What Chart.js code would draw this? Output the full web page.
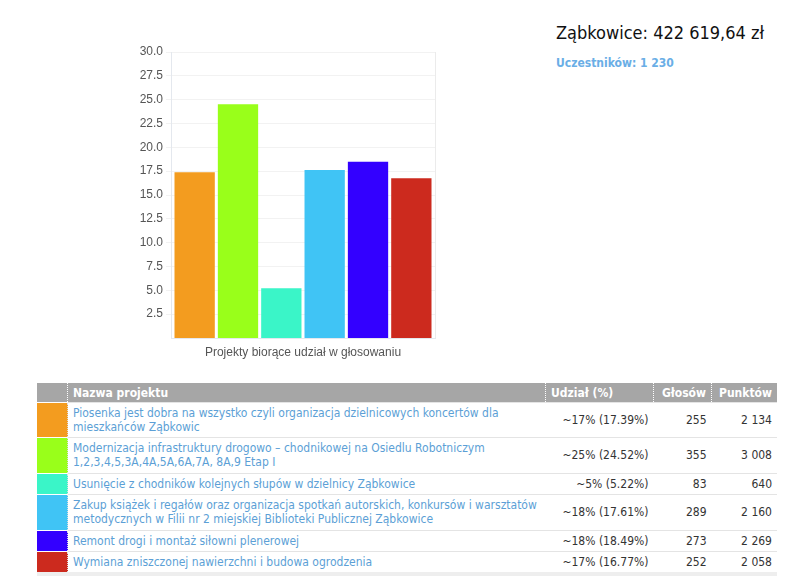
<!DOCTYPE html>
<html lang="pl">
<head>
<meta charset="UTF-8">
<title>Ząbkowice</title>
<script src="https://cdn.jsdelivr.net/npm/chart.js@4"></script>
<style>
  body { margin: 0; background: #fff; font-family: "DejaVu Sans Condensed", "DejaVu Sans", sans-serif; }
  #chartBox { position: absolute; left: 130px; top: 35px; width: 320px; height: 330px; }
  #title { position: absolute; left: 556px; top: 22px; font-size: 18px; color: #111; white-space: nowrap; }
  #people { position: absolute; left: 556px; top: 56px; font-size: 12px; font-weight: bold; color: #6aaee6; }
  #tbl { position: absolute; left: 37px; top: 383px; width: 740px; border-collapse: collapse; font-size: 12px; border-bottom: 4px solid #eeeeee; }
  #tbl th { background: #a6a6a6; color: #fff; font-weight: bold; text-align: left; height: 19px; padding: 0 5px; border-left: 1px dotted #fff; }
  #tbl th:first-child { border-left: none; }
  #tbl th.num { text-align: right; }
  #tbl td { border-top: 1px solid #e4e4e4; padding: 3px 5px 3.4px 5px; line-height: 14px; color: #333; }
  #tbl td.col { padding: 0; border-top: 1px solid #fff; }
  #tbl td.name { color: #5c9fd6; border-left: 1px dotted #ddd; }
  #tbl td.num { text-align: right; }
</style>
</head>
<body>
<div id="title"></div>
<div id="people"></div>
<div id="chartBox"><canvas id="myBarChart"></canvas></div>
<table id="tbl"></table>
<script>
  const cityName = "Ząbkowice";
  const budget = "422 619,64 zł";
  const participants = "1 230";
  const categories = ["Projekty biorące udział w głosowaniu"];
  const projects = [
    "Piosenka jest dobra na wszystko czyli organizacja dzielnicowych koncertów dla mieszkańców Ząbkowic",
    "Modernizacja infrastruktury drogowo – chodnikowej na Osiedlu Robotniczym 1,2,3,4,5,3A,4A,5A,6A,7A, 8A,9 Etap I",
    "Usunięcie z chodników kolejnych słupów w dzielnicy Ząbkowice",
    "Zakup książek i regałów oraz organizacja spotkań autorskich, konkursów i warsztatów metodycznych w Filii nr 2 miejskiej Biblioteki Publicznej Ząbkowice",
    "Remont drogi i montaż siłowni plenerowej",
    "Wymiana zniszczonej nawierzchni i budowa ogrodzenia"
  ];
  const shares = [17.39, 24.52, 5.22, 17.61, 18.49, 16.77];
  const votes = [255, 355, 83, 289, 273, 252];
  const points = ["2 134", "3 008", "640", "2 160", "2 269", "2 058"];
  const colors = ["#f39c1f", "#99ff1a", "#3af5c8", "#40c4f5", "#3300ff", "#cc2a1e"];
  const yTicks = [2.5, 5, 7.5, 10, 12.5, 15, 17.5, 20, 22.5, 25, 27.5, 30];

  document.getElementById("title").textContent = cityName + ": " + budget;
  document.getElementById("people").textContent = "Uczestników: " + participants;

  // table
  let html = '<tr><th style="width:20px"></th><th>Nazwa projektu</th><th style="width:97px">Udział (%)</th>' +
    '<th class="num" style="width:47px">Głosów</th><th class="num" style="width:55px">Punktów</th></tr>';
  projects.forEach(function (p, i) {
    html += '<tr><td class="col" style="background:' + colors[i] + '"></td>' +
      '<td class="name">' + p + '</td>' +
      '<td class="num">~' + Math.round(shares[i]) + '% (' + shares[i].toFixed(2) + '%)</td>' +
      '<td class="num">' + votes[i] + '</td>' +
      '<td class="num">' + points[i] + '</td></tr>';
  });
  document.getElementById("tbl").innerHTML = html;

  const datasets = projects.map(function (p, i) {
    return {
      label: p,
      data: [shares[i]],
      backgroundColor: colors[i],
      borderWidth: 0,
      categoryPercentage: 0.985,
      barPercentage: 0.93
    };
  });

  const ctx = document.getElementById("myBarChart").getContext("2d");
  new Chart(ctx, {
    type: "bar",
    data: { labels: categories, datasets: datasets },
    options: {
      responsive: true,
      maintainAspectRatio: false,
      animation: false,
      layout: { padding: { top: 17, right: 15, left: 0, bottom: 0 } },
      plugins: { legend: { display: false }, tooltip: { enabled: false } },
      scales: {
        x: {
          afterFit: function (axis) { axis.height = 27; },
          grid: { color: "#ebebeb", tickLength: 0, offset: true },
          border: { color: "#e4e8ee" },
          ticks: { color: "#555", font: { family: "Liberation Sans", size: 12 }, padding: 7 }
        },
        y: {
          min: 0,
          max: 30,
          afterBuildTicks: function (axis) {
            axis.ticks = yTicks.map(function (v) { return { value: v }; });
          },
          afterFit: function (axis) { axis.width = 41; },
          grid: { color: "#f2f2f2", tickLength: 5 },
          border: { color: "#e4e8ee" },
          ticks: {
            color: "#555",
            font: { family: "Liberation Sans", size: 12 },
            padding: 3,
            callback: function (v) { return Number(v).toFixed(1); }
          }
        }
      }
    }
  });
</script>
</body>
</html>
